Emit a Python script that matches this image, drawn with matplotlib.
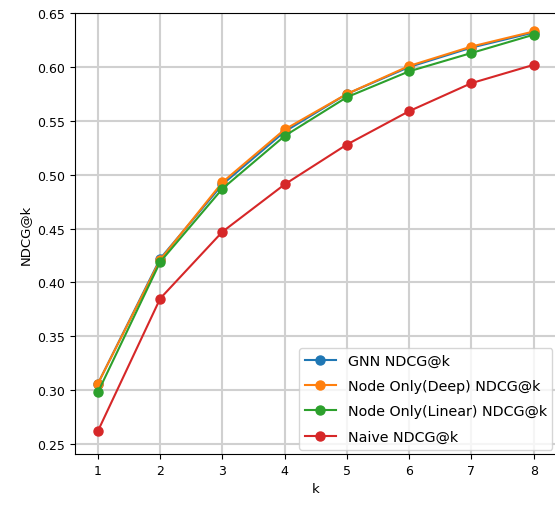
import matplotlib

matplotlib.use("Agg")

import matplotlib.pyplot as plt  # noqa: E402

# NDCG@k per model
k_values = [1, 2, 3, 4, 5, 6, 7, 8]
gnn_ndcg = [0.306, 0.422, 0.491, 0.540, 0.575, 0.600, 0.618, 0.632]
deep_ndcg = [0.306, 0.421, 0.493, 0.542, 0.575, 0.601, 0.619, 0.633]
linear_ndcg = [0.298, 0.419, 0.487, 0.536, 0.572, 0.596, 0.613, 0.630]
naive_ndcg = [0.262, 0.385, 0.447, 0.491, 0.528, 0.559, 0.585, 0.602]

series = [
    ("GNN NDCG@k", gnn_ndcg, "#1f77b4"),
    ("Node Only(Deep) NDCG@k", deep_ndcg, "#ff7f0e"),
    ("Node Only(Linear) NDCG@k", linear_ndcg, "#2ca02c"),
    ("Naive NDCG@k", naive_ndcg, "#d62728"),
]

plt.rcParams["font.size"] = 9

fig = plt.figure(figsize=(5.55, 5.06), dpi=100)
ax = fig.add_axes([0.135, 0.101, 0.868, 0.871])

for label, values, color in series:
    ax.plot(k_values, values, marker="o", markersize=6.5, linewidth=1.5,
            color=color, label=label)

ax.set_xlim(0.63, 8.37)
ax.set_ylim(0.2407, 0.65)
ax.set_yticks([0.25, 0.30, 0.35, 0.40, 0.45, 0.50, 0.55, 0.60, 0.65])
ax.set_xticks(k_values)
ax.set_xlabel("k", fontsize=9.5)
ax.set_ylabel("NDCG@k", fontsize=9.5)
ax.grid(True, color="#d0d0d0", linewidth=1.5)
ax.set_axisbelow(True)
ax.legend(loc="lower right", fontsize=10.3, labelspacing=0.8,
          handlelength=2.2, framealpha=0.8, borderaxespad=0.3)

fig.savefig("out.png", dpi=100)
